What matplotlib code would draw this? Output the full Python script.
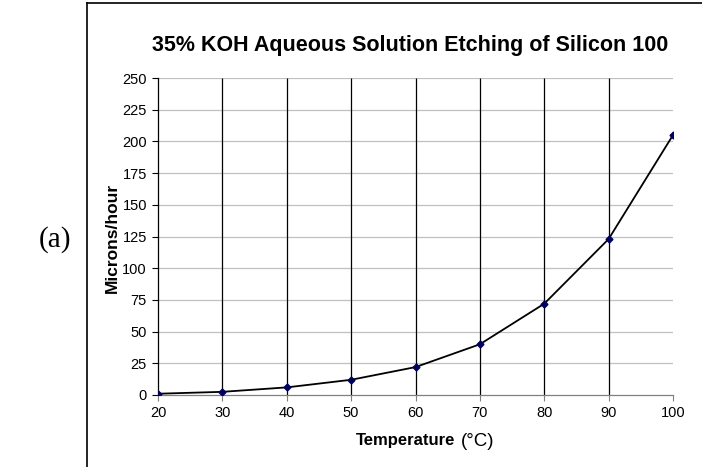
import matplotlib
matplotlib.use('Agg')
import matplotlib.pyplot as plt
from matplotlib.lines import Line2D

temperature = [20, 30, 40, 50, 60, 70, 80, 90, 100]
microns_per_hour = [1, 2.5, 6, 12, 22, 40, 72, 123, 205]
y_ticks = [0, 25, 50, 75, 100, 125, 150, 175, 200, 225, 250]
x_ticks = [20, 30, 40, 50, 60, 70, 80, 90, 100]

plt.rcParams['font.family'] = ['Liberation Sans', 'DejaVu Sans']

fig = plt.figure(figsize=(7.02, 4.67), dpi=100)
ax = fig.add_axes([158 / 702, 1 - 395 / 467, (673 - 158) / 702, (395 - 78) / 467])

# vertical black lines at the inner x ticks
ax.vlines(x_ticks[1:-1], 0, 250, colors='black', linewidth=0.9, zorder=1)
for v in y_ticks[1:]:
    ax.axhline(v, color='#c0c0c0', linewidth=0.9, zorder=0)

ax.plot(temperature, microns_per_hour, color='black', linewidth=1.3, zorder=3)
ax.plot(temperature, microns_per_hour, linestyle='none', marker='D', markersize=3.5,
        color='#000060', zorder=4)

ax.set_xlim(20, 100)
ax.set_ylim(0, 250)
ax.set_xticks(x_ticks)
ax.set_yticks(y_ticks)
ax.tick_params(axis='both', labelsize=10.5, direction='out', length=4, width=0.8, pad=4)
ax.tick_params(axis='x', colors='#808080', labelcolor='black')
ax.tick_params(axis='y', colors='black', labelcolor='black')
ax.spines['top'].set_visible(False)
ax.spines['right'].set_visible(False)
ax.spines['bottom'].set_color('#808080')
ax.spines['left'].set_color('black')
ax.spines['left'].set_linewidth(0.9)
ax.spines['bottom'].set_linewidth(0.9)

fig.text(410 / 702, 1 - 45 / 467, '35% KOH Aqueous Solution Etching of Silicon 100',
         ha='center', va='center', fontsize=15.5, fontweight='bold')

fig.text(112 / 702, 1 - 238 / 467, 'Microns/hour', rotation=90, ha='center', va='center',
         fontsize=12.5, fontweight='bold')

fig.text(455 / 702, 1 - 441 / 467, 'Temperature', ha='right', va='center',
         fontsize=12, fontweight='bold')
fig.text(461 / 702, 1 - 441 / 467, '(°C)', ha='left', va='center', fontsize=13.5)

fig.text(55 / 702, 1 - 240 / 467, '(a)', ha='center', va='center', fontsize=21,
         family=['Liberation Serif', 'DejaVu Serif'])

# frame around the chart (top and left edges only show)
fig.add_artist(Line2D([87 / 702, 1.0], [1 - 3 / 467, 1 - 3 / 467], color='black', linewidth=1.2))
fig.add_artist(Line2D([87 / 702, 87 / 702], [0.0, 1 - 3 / 467], color='black', linewidth=1.2))

fig.savefig('out.png', dpi=100)
